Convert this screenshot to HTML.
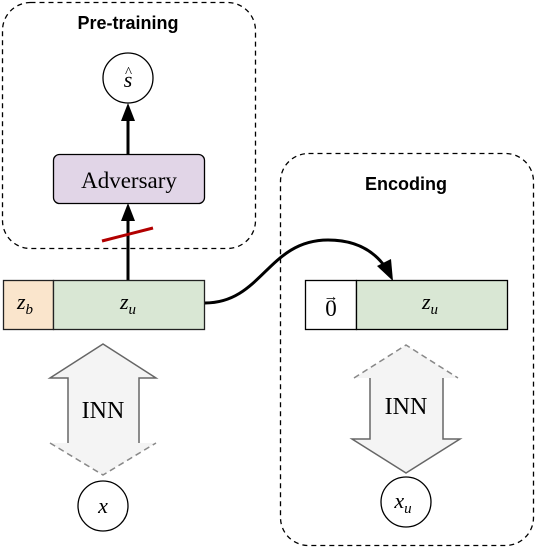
<!DOCTYPE html>
<html><head><style>body{margin:0;background:#fff}svg{display:block}</style></head><body>
<svg width="540" height="553" viewBox="0 0 540 553" xmlns="http://www.w3.org/2000/svg">
<g fill="none" stroke="#000" stroke-width="1.3" stroke-dasharray="5,4">
<rect x="2.5" y="2.5" width="253" height="246" rx="28"/>
<rect x="280.5" y="153.5" width="253" height="392" rx="28"/>
</g>
<g font-family="Liberation Sans, sans-serif" font-weight="bold" font-size="18" text-anchor="middle">
<text x="128" y="29">Pre-training</text>
<text x="406" y="190">Encoding</text>
</g>
<!-- s hat circle -->
<circle cx="128" cy="78" r="25" fill="#fff" stroke="#000" stroke-width="1.3"/>
<text x="128" y="87" font-family="Liberation Serif, serif" font-style="italic" font-size="22" text-anchor="middle">s</text>
<text x="128.5" y="77" font-family="Liberation Serif, serif" font-size="15" text-anchor="middle">^</text>
<!-- arrows -->
<line x1="128" y1="154" x2="128" y2="118" stroke="#000" stroke-width="3"/>
<polygon points="128,103 121,121 135,121" fill="#000"/>
<line x1="128" y1="280" x2="128" y2="218" stroke="#000" stroke-width="3"/>
<polygon points="128,203 121,221 135,221" fill="#000"/>
<line x1="102" y1="241" x2="153" y2="228" stroke="#b20000" stroke-width="3"/>
<!-- adversary -->
<rect x="53.5" y="154.5" width="151" height="49" rx="6" fill="#e1d5e7" stroke="#000" stroke-width="1.3"/>
<text x="129" y="188" font-family="Liberation Serif, serif" font-size="23" text-anchor="middle">Adversary</text>
<!-- left bar -->
<rect x="3.5" y="280.5" width="50" height="49" fill="#fae5cc" stroke="#222" stroke-width="1.3"/>
<rect x="53.5" y="280.5" width="151" height="49" fill="#d9e7d4" stroke="#222" stroke-width="1.3"/>
<text x="25" y="309" font-family="Liberation Serif, serif" font-style="italic" font-size="22" text-anchor="middle">z<tspan font-size="15" dy="5">b</tspan></text>
<text x="128" y="309" font-family="Liberation Serif, serif" font-style="italic" font-size="22" text-anchor="middle">z<tspan font-size="15" dy="5">u</tspan></text>
<!-- curve -->
<path d="M205,303 C262,303 268,240 328,240 C357,240 375,252 386,268" fill="none" stroke="#000" stroke-width="3"/>
<polygon points="393,281 377,266 391,259" fill="#000"/>
<!-- right bar -->
<rect x="305.5" y="280.5" width="51" height="49" fill="#fff" stroke="#000" stroke-width="1.3"/>
<rect x="356.5" y="280.5" width="151" height="49" fill="#d9e7d4" stroke="#000" stroke-width="1.3"/>
<text x="331" y="316" font-family="Liberation Serif, serif" font-size="23" text-anchor="middle">0</text>
<text x="331" y="301" font-family="Liberation Serif, serif" font-size="15" text-anchor="middle">→</text>
<text x="430" y="309" font-family="Liberation Serif, serif" font-style="italic" font-size="22" text-anchor="middle">z<tspan font-size="15" dy="5">u</tspan></text>
<!-- left INN -->
<polygon points="103,344 50,378 68,378 68,443 50,443 103,475 156,443 139,443 139,378 156,378" fill="#f4f4f4"/>
<polyline points="68,443 68,378 50,378 103,344 156,378 139,378 139,443" fill="none" stroke="#666" stroke-width="1.5"/>
<polyline points="50,443 103,475 156,443" fill="none" stroke="#888" stroke-width="1.5" stroke-dasharray="6,4"/>
<text x="103" y="418" font-family="Liberation Serif, serif" font-size="24" text-anchor="middle">INN</text>
<circle cx="103" cy="506" r="25" fill="#fff" stroke="#000" stroke-width="1.3"/>
<text x="103" y="513" font-family="Liberation Serif, serif" font-style="italic" font-size="22" text-anchor="middle">x</text>
<!-- right INN -->
<polygon points="406,345 354,378 370,378 370,439 352,439 406,473 460,439 443,439 443,378 458,378" fill="#f4f4f4"/>
<polyline points="354,378 406,345 458,378" fill="none" stroke="#888" stroke-width="1.5" stroke-dasharray="6,4"/>
<polyline points="370,378 370,439 352,439 406,473 460,439 443,439 443,378" fill="none" stroke="#666" stroke-width="1.5"/>
<text x="406" y="414" font-family="Liberation Serif, serif" font-size="24" text-anchor="middle">INN</text>
<circle cx="406" cy="502" r="25" fill="#fff" stroke="#000" stroke-width="1.3"/>
<text x="403" y="508" font-family="Liberation Serif, serif" font-style="italic" font-size="22" text-anchor="middle">x<tspan font-size="15" dy="5">u</tspan></text>
</svg>
</body></html>
